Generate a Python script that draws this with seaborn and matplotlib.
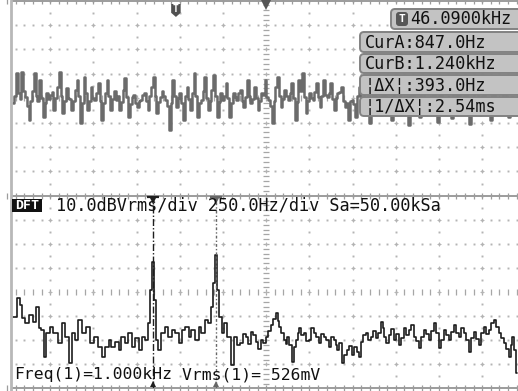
import numpy as np
import pandas as pd
import matplotlib
matplotlib.use("Agg")
import matplotlib.pyplot as plt
import seaborn as sns
from matplotlib.patches import FancyBboxPatch, Rectangle, Polygon
from matplotlib.lines import Line2D
from matplotlib.transforms import Affine2D

# ---------------- data ----------------
# time-domain trace, vertical divisions from screen centre
time_trace_div = [
    -0.20, 0.10, 1.03, 0.20, -0.05, 1.07, 0.30, 0.05, -0.30, -0.89,
    -0.10, 0.30, 1.03, 0.10, -0.10, 0.75, 0.00, -0.77, -0.20, 0.20,
    -0.05, 0.15, 0.25, -0.48, 0.00, 0.46, 1.07, 0.10, -0.61, -0.10,
    0.40, 0.00, -0.05, -0.48, -0.10, 0.34, 0.75, 0.10, -1.02, -0.20,
    0.87, 0.20, -0.48, -0.10, 0.46, 0.00, -0.07, 0.20, 0.62, -0.10,
    -0.89, -0.20, 0.21, 0.75, 0.10, -0.48, -0.05, 0.30, -0.07, 0.10,
    -0.48, -0.15, 0.34, 0.83, 0.05, -0.77, -0.25, 0.05, 0.15, -0.20,
    -0.36, -0.10, -0.07, 0.15, 0.21, -0.10, -0.48, 0.10, 0.46, 0.87,
    0.10, -0.61, -0.15, 0.05, 0.30, 0.10, -0.07, -0.30, -1.30, -0.20,
    0.75, 0.10, -0.36, 0.00, 0.21, -0.20, -0.89, 0.10, 0.46, -0.05,
    -0.48, 0.20, 1.03, 0.10, -0.77, -0.20, -0.07, 0.30, 0.87, 0.00,
    -0.48, -0.10, 0.34, 0.95, 0.10, -0.77, -0.15, 0.21, -0.07, 0.10,
    0.62, 0.00, -0.77, -0.20, 0.21, 0.05, -0.07, 0.20, 0.34, -0.10,
    -0.36, 0.05, 0.75, 0.10, -0.20, -0.05, 0.46, 0.00, -0.48, -0.10,
    0.21, 0.15, 0.75, 0.05, -0.07, -0.30, -1.02, -0.10, 0.46, 0.87,
    0.10, -0.36, -0.05, 0.34, 0.10, -0.07, 0.20, 0.62, 0.00, -0.89,
    -0.15, 0.75, 0.30, 1.03, 0.05, -0.61, -0.10, 0.21, 0.00, -0.07,
    0.25, 0.62, 0.05, -0.36, 0.10, 0.75, 0.15, 0.05, 0.20, 0.62,
    -0.05, -0.48, 0.00, 0.21, 0.25, 0.46, -0.10, -0.36, -0.20, -0.89,
    -0.10, -0.07, -0.25, -0.77, 0.10, 0.46, -0.05, -0.48, 0.20, 0.75,
    0.00, -1.02, -0.10, 0.21, 0.05, -0.07, -0.20, -0.69, 0.10, 0.62,
    -0.10, -0.36, -0.30, -0.89, 0.05, 0.34, 0.30, 0.87, -0.05, -0.48,
    0.00, 0.05, -0.30, -1.10, 0.10, 0.46, -0.05, -0.20, -0.25, -0.77,
    0.20, 0.75, 0.00, -0.07, -0.15, -0.61, 0.10, 0.34, -0.20, -0.98,
    0.10, 0.54, -0.10, -0.36, 0.00, 0.05, -0.25, -0.81, 0.20, 0.75,
    0.05, 0.21, -0.15, -0.48, 0.10, 0.46, -0.20, -1.06, -0.05, -0.07,
    0.20, 0.62, -0.10, -0.69, 0.05, 0.21, -0.10, -0.36, -0.30, -0.89,
    0.10, 0.42, 0.00, -0.07, -0.20, -0.61, 0.25, 0.75, -0.10, -0.77,
    0.00, 0.05, -0.10, -0.28,
]
time_span_div = (0.15, 11.78)   # first / last sample position (horizontal divisions)

# DFT spectrum
dft_freq_hz = [
    35, 52, 64, 81, 93, 116, 139, 162, 174, 191,
    208, 220, 237, 260, 278, 307, 324, 347, 365, 382,
    405, 422, 451, 469, 492, 515, 538, 556, 579, 596,
    613, 637, 654, 671, 694, 712, 735, 752, 770, 787,
    810, 822, 833, 845, 856, 868, 885, 903, 926, 943,
    961, 984, 1001, 1019, 1042, 1059, 1076, 1100, 1117, 1134,
    1157, 1175, 1186, 1198, 1209, 1221, 1233, 1250, 1267, 1285,
    1302,
    1320, 1340, 1360, 1375, 1389, 1404, 1418, 1433, 1447, 1462,
    1476, 1491, 1505, 1520, 1534, 1549, 1563, 1572, 1580, 1595,
    1609, 1618, 1626, 1641, 1655, 1667, 1678, 1687, 1696, 1711,
    1725, 1740, 1754, 1768, 1782, 1797, 1811, 1826, 1840, 1855,
    1869, 1884, 1898, 1907, 1916, 1930, 1944, 1958, 1973, 1988,
    2002, 2017, 2031, 2043, 2054, 2069, 2083, 2098, 2112, 2127,
    2141, 2156, 2170, 2179, 2187, 2202, 2216, 2231, 2245, 2260,
    2274, 2289, 2303, 2318, 2332, 2347, 2361, 2376, 2390, 2405,
    2419, 2434, 2448, 2463, 2477, 2492, 2506, 2521, 2535, 2550,
    2564, 2579, 2593, 2608, 2622, 2636, 2650, 2665, 2679, 2694,
    2708, 2723, 2737, 2752, 2766, 2781, 2795, 2810, 2824, 2839,
    2853, 2868, 2882, 2897, 2911, 2920, 2928, 2940, 2951,
]
dft_level_db = [
    -50.3, -50.3, -42.4, -45.3, -50.7, -52.8, -49.5, -52.4, -46.1, -54.8,
    -55.7, -66.9, -56.9, -54.4, -56.9, -61.1, -52.8, -58.6, -69.4, -56.9,
    -59.8, -51.5, -56.9, -54.4, -61.1, -58.6, -62.7, -66.9, -62.7, -59.8,
    -62.7, -60.7, -64.0, -58.6, -61.1, -56.9, -62.7, -59.0, -64.0, -58.6,
    -59.8, -52.8, -39.1, -27.5, -43.2, -59.8, -64.0, -56.9, -54.4, -58.6,
    -55.7, -56.9, -61.1, -55.7, -54.4, -58.6, -55.7, -59.8, -54.4, -56.9,
    -51.5, -52.8, -46.1, -36.2, -24.6, -39.1, -50.3, -56.9, -52.8, -58.6,
    -70.2,
    -58.6, -62.0, -61.1, -57.5, -58.6, -61.5, -56.5, -58.0, -60.7, -63.5,
    -59.8, -61.0, -58.6, -56.0, -53.6, -51.0, -48.6, -52.0, -54.4, -57.0,
    -59.8, -61.5, -58.6, -62.0, -69.0, -63.0, -59.8, -57.0, -54.8, -58.0,
    -56.9, -60.5, -59.8, -55.0, -56.9, -58.5, -61.1, -57.5, -58.6, -60.0,
    -62.7, -58.5, -59.8, -62.0, -64.0, -61.0, -69.4, -66.0, -64.0, -62.5,
    -66.1, -63.0, -64.8, -67.0, -60.7, -58.0, -56.9, -60.0, -58.6, -56.0,
    -59.0, -57.0, -52.4, -55.0, -58.6, -61.0, -57.8, -55.5, -59.8, -57.5,
    -61.9, -59.0, -54.8, -58.0, -55.7, -53.5, -58.6, -60.5, -63.2, -58.5,
    -55.7, -57.5, -59.8, -56.0, -52.8, -57.0, -63.2, -60.0, -55.7, -58.0,
    -59.8, -56.5, -53.6, -57.0, -58.6, -55.0, -56.9, -60.0, -64.8, -59.0,
    -56.5, -59.5, -61.9, -57.0, -54.4, -57.5, -55.7, -53.0, -51.5, -54.5,
    -56.9, -59.0, -61.1, -63.5, -66.9, -62.0, -58.6, -64.0, -73.6,
]
cursor_a_hz = 845
cursor_b_hz = 1210
trigger_pos_div = 3.91

trig_freq_text = "46.0900kHz"
readout_texts = ["CurA:847.0Hz", "CurB:1.240kHz", "¦ΔX¦:393.0Hz", "¦1/ΔX¦:2.54ms"]
dft_header_text = "10.0dBVrms/div 250.0Hz/div Sa=50.00kSa"
meas_freq_text = "Freq(1)=1.000kHz"
meas_vrms_text = "Vrms(1)= 526mV"

# ---------------- layout ----------------
W, H = 518, 391
HZ_PER_DIV, DB_PER_DIV = 250.0, 10.0
PX_PER_XDIV = 43.2
GRID = "#b4b4b4"
TICK = "#a6a6a6"
EDGE = "#9c9c9c"

sns.set_theme(style="white")
plt.rcParams["font.family"] = ["DejaVu Sans Mono", "DejaVu Sans"]

fig = plt.figure(figsize=(W / 100, H / 100), dpi=100, facecolor="white")
px = Affine2D().scale(1, -1).translate(0, H)  # pixel coords (top-left origin)


def rect(x0, y0, x1, y1):
    return [x0 / W, 1 - y1 / H, (x1 - x0) / W, (y1 - y0) / H]


ax_t = fig.add_axes(rect(12, 0.6, 518, 195.8))
ax_b = fig.add_axes(rect(12, 195.8, 518, 388.4))
for ax in (ax_t, ax_b):
    ax.set_axis_off()

xl = (5 / PX_PER_XDIV, 511 / PX_PER_XDIV)
ax_t.set_xlim(*xl)
ax_t.set_ylim(-4, 4)
ax_b.set_xlim(xl[0] * HZ_PER_DIV, xl[1] * HZ_PER_DIV)
ax_b.set_ylim(-80, 0)


def screen_grid(ax, xu, y0, yu):
    xs = np.arange(0, 12.001, 0.2) * xu
    for j in range(-3, 4):
        y = y0 + j * yu
        if j == 0:
            ax.plot(xs, np.full(xs.size, y), ls="none", marker="|", ms=4.5, mew=0.9, color=TICK, zorder=1)
        else:
            ax.plot(xs, np.full(xs.size, y), ls="none", marker="s", ms=1.4, mew=0, color=GRID, zorder=1)
    ys_half = y0 + np.arange(-4, 4.001, 0.5) * yu
    ys_fifth = y0 + np.arange(-4, 4.001, 0.2) * yu
    for k in range(1, 12):
        if k == 6:
            ax.plot(np.full(ys_fifth.size, k * xu), ys_fifth, ls="none", marker="_", ms=4.5, mew=0.9, color=TICK, zorder=1)
        else:
            ax.plot(np.full(ys_half.size, k * xu), ys_half, ls="none", marker="s", ms=1.4, mew=0, color=GRID, zorder=1)
    kx, ky = np.meshgrid(np.arange(1, 12) * xu, y0 + np.arange(-3, 4) * yu)
    ax.plot(kx.ravel(), ky.ravel(), ls="none", marker="+", ms=3.5, mew=0.7, color=GRID, zorder=1)


def ruler(ax, y, xu):
    ax.axhline(y, color=EDGE, lw=1.4, clip_on=False, zorder=2)
    xs = np.arange(0, 12.001, 0.2) * xu
    ax.plot(xs, np.full(xs.size, y), ls="none", marker="|", ms=5, mew=0.9, color=EDGE, clip_on=False, zorder=2)


screen_grid(ax_t, 1.0, 0.0, 1.0)
screen_grid(ax_b, HZ_PER_DIV, -40.0, DB_PER_DIV)
ruler(ax_t, 4, 1.0)
ruler(ax_b, 0, HZ_PER_DIV)
ruler(ax_b, -80, HZ_PER_DIV)
fig.add_artist(Line2D([11, 11], [0, H], transform=px, color="#b8b8b8", lw=2.0))

# ---------------- traces ----------------
df_t = pd.DataFrame({
    "t": np.linspace(time_span_div[0], time_span_div[1], len(time_trace_div)),
    "v": time_trace_div,
})
sns.lineplot(data=df_t, x="t", y="v", ax=ax_t, color="#6b6b6b", lw=1.8,
             drawstyle="steps-mid", estimator=None, legend=False, zorder=3)

df_b = pd.DataFrame({"f": dft_freq_hz, "db": dft_level_db})
sns.lineplot(data=df_b, x="f", y="db", ax=ax_b, color="#1c1c1c", lw=1.2,
             drawstyle="steps-mid", estimator=None, legend=False, zorder=3)

# cursors
ax_b.axvline(cursor_a_hz, color="#1e1e1e", lw=1.0, dashes=(5, 1.5, 1, 1.5), zorder=4)
ax_b.axvline(cursor_b_hz, color="#666666", lw=1.0, dashes=(2, 1.5, 1, 1.5), zorder=4)
for c, col in ((cursor_a_hz, "#1e1e1e"), (cursor_b_hz, "#666666")):
    ax_b.plot([c], [-0.6], marker="_", ms=8, mew=1.6, color=col, clip_on=False, zorder=5)
    ax_b.plot([c], [-2.2], marker="v", ms=5, color=col, mew=0, clip_on=False, zorder=5)
    ax_b.plot([c], [-78.2], marker="^", ms=5, color=col, mew=0, clip_on=False, zorder=5)

# trigger markers (top)
tw = 0.11
ax_t.add_patch(Polygon([(trigger_pos_div - tw, 3.86), (trigger_pos_div + tw, 3.86),
                        (trigger_pos_div + tw, 3.50), (trigger_pos_div, 3.33),
                        (trigger_pos_div - tw, 3.50)], closed=True, fc="#505050", ec="none", zorder=5))
ax_t.text(trigger_pos_div, 3.64, "T", ha="center", va="center", color="white",
          fontsize=7, fontweight="bold", zorder=6)
ax_t.plot([6.0], [3.80], marker="v", ms=7, color="#555555", mew=0, clip_on=False, zorder=5)

# ---------------- readout boxes ----------------
mono = dict(family=["DejaVu Sans Mono"], fontsize=12.2, color="#111111")
mono_s = dict(family=["DejaVu Sans Mono"], fontsize=11.8, color="#111111")


def pbox(x0, y0, x1, y1, fc, ec, lw=1.4, r=4):
    p = FancyBboxPatch((x0, H - y1), x1 - x0, y1 - y0, boxstyle=f"round,pad=0,rounding_size={r}",
                       transform=None, fc=fc, ec=ec, lw=lw, zorder=10)
    fig.add_artist(p)


pbox(391, 9, 523, 29, "#c3c3c3", "#828282")
pbox(396, 12, 408, 26, "#575757", "none", lw=0, r=3)
fig.text(402, 19, "T", transform=px, ha="center", va="center", color="white",
         fontsize=8, fontweight="bold", zorder=12)
fig.text(410, 19.5, trig_freq_text, transform=px, ha="left", va="center", zorder=12, **mono)

rows = [(32, 52), (54, 73), (75, 95), (97, 116)]
for (y0, y1), s in zip(rows, readout_texts):
    pbox(360, y0, 523, y1, "#c3c3c3", "#828282")
    fig.text(365, (y0 + y1) / 2 + 0.5, s, transform=px, ha="left", va="center", zorder=12, **mono)

# ---------------- DFT labels ----------------
fig.add_artist(Rectangle((12, H - 212), 30, 13, transform=None, fc="#111111", ec="none", zorder=10))
fig.text(27, 205.5, "DFT", transform=px, ha="center", va="center", color="white",
         family=["DejaVu Sans Mono"], fontsize=9.5, fontweight="bold", zorder=12)
fig.text(56, 206, dft_header_text, transform=px, ha="left", va="center", zorder=12, **mono)
fig.text(14, 375, meas_freq_text, transform=px, ha="left", va="center", zorder=12, **mono_s)
fig.text(182, 375, meas_vrms_text, transform=px, ha="left", va="center", zorder=12, **mono_s)

fig.savefig("out.png", dpi=100, facecolor="white")
